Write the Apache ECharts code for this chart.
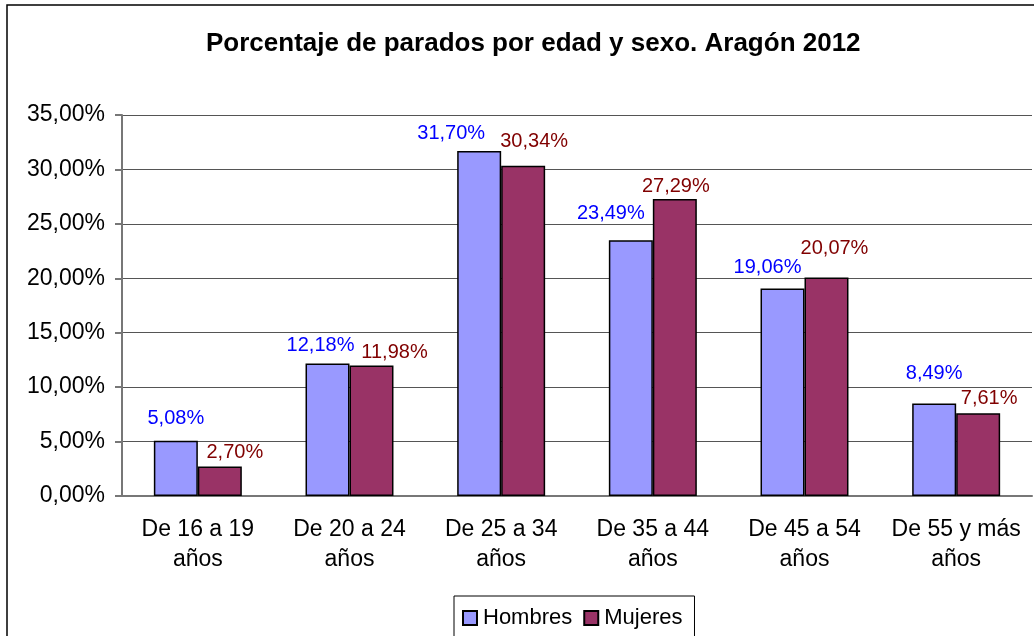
<!DOCTYPE html>
<html>
<head>
<meta charset="utf-8">
<script src="https://cdn.jsdelivr.net/npm/echarts@6/dist/echarts.min.js"></script>
<style>
  html, body { margin: 0; padding: 0; background: #fff; }
  #chart { width: 1034px; height: 636px; }
</style>
</head>
<body>
<div id="chart"></div>
<script>
const categories = ['De 16 a 19\naños', 'De 20 a 24\naños', 'De 25 a 34\naños', 'De 35 a 44\naños', 'De 45 a 54\naños', 'De 55 y más\naños']
const hombres = [5.08, 12.18, 31.70, 23.49, 19.06, 8.49]
const mujeres = [2.70, 11.98, 30.34, 27.29, 20.07, 7.61]

// label nudges (px) to mimic where the original spreadsheet placed them
const hombresLabelDx = [0, -7, -28, -20, -15, 0]
const hombresLabelDy = [22, 18, 17, 27, 21, 30]
const mujeresLabelDx = [15, 23, 11, 1, 8, 11]
const mujeresLabelDy = [14, 13, 24, 12, 29, 15]

const FONT = "'Liberation Sans', Arial, sans-serif"
const fmt = (v) => v.toFixed(2).replace('.', ',') + '%'

const buildData = (values, dx, dy) => values.map((v, i) => ({
  value: v,
  label: { offset: [dx[i], -(dy[i] - 10)] },
}))

const chart = echarts.init(document.getElementById('chart'))

chart.setOption({
  animation: false,
  backgroundColor: '#fff',
  title: {
    text: 'Porcentaje de parados por edad y sexo. Aragón 2012',
    left: 201,
    top: 26,
    textStyle: { fontFamily: FONT, fontSize: 26, fontWeight: 'bold', color: '#000' },
  },
  graphic: [
    {
      type: 'rect',
      shape: { x: 7, y: 5, width: 1040, height: 640 },
      style: { fill: 'none', stroke: '#000', lineWidth: 1.5 },
      silent: true,
    },
  ],
  legend: {
    left: 454,
    top: 596,
    padding: [11, 12, 12, 8],
    itemWidth: 14,
    itemHeight: 14,
    itemGap: 11,
    borderColor: '#000',
    borderWidth: 1,
    icon: 'rect',
    textStyle: { fontFamily: FONT, fontSize: 22, color: '#000', padding: [0, 0, 0, 1] },
    data: ['Hombres', 'Mujeres'],
  },
  grid: { left: 122, right: 2, top: 115, bottom: 140 },
  xAxis: {
    type: 'category',
    data: categories,
    axisLine: { lineStyle: { color: '#777', width: 2 } },
    axisTick: { length: 7, lineStyle: { color: '#777', width: 2 } },
    axisLabel: {
      fontFamily: FONT,
      fontSize: 23,
      color: '#000',
      lineHeight: 30,
      margin: 19,
      interval: 0,
    },
  },
  yAxis: {
    type: 'value',
    min: 0,
    max: 35,
    interval: 5,
    axisLine: { show: true, lineStyle: { color: '#777', width: 2 } },
    axisTick: { show: true, length: 7, lineStyle: { color: '#777', width: 2 } },
    splitLine: { lineStyle: { color: '#555', width: 1 } },
    axisLabel: {
      fontFamily: FONT,
      fontSize: 23,
      color: '#000',
      margin: 17,
      formatter: fmt,
    },
  },
  series: [
    {
      name: 'Hombres',
      type: 'bar',
      barGap: 0,
      barCategoryGap: '42%',
      data: buildData(hombres, hombresLabelDx, hombresLabelDy),
      itemStyle: { color: '#9999FF', borderColor: '#000', borderWidth: 1.5 },
      label: {
        show: true,
        position: 'top',
        distance: 0,
        fontFamily: FONT,
        fontSize: 20,
        color: '#0000FF',
        formatter: (p) => fmt(p.value),
      },
    },
    {
      name: 'Mujeres',
      type: 'bar',
      barGap: 0,
      barCategoryGap: '42%',
      data: buildData(mujeres, mujeresLabelDx, mujeresLabelDy),
      itemStyle: { color: '#993366', borderColor: '#000', borderWidth: 1.5 },
      label: {
        show: true,
        position: 'top',
        distance: 0,
        fontFamily: FONT,
        fontSize: 20,
        color: '#800000',
        formatter: (p) => fmt(p.value),
      },
    },
  ],
})
</script>
</body>
</html>
